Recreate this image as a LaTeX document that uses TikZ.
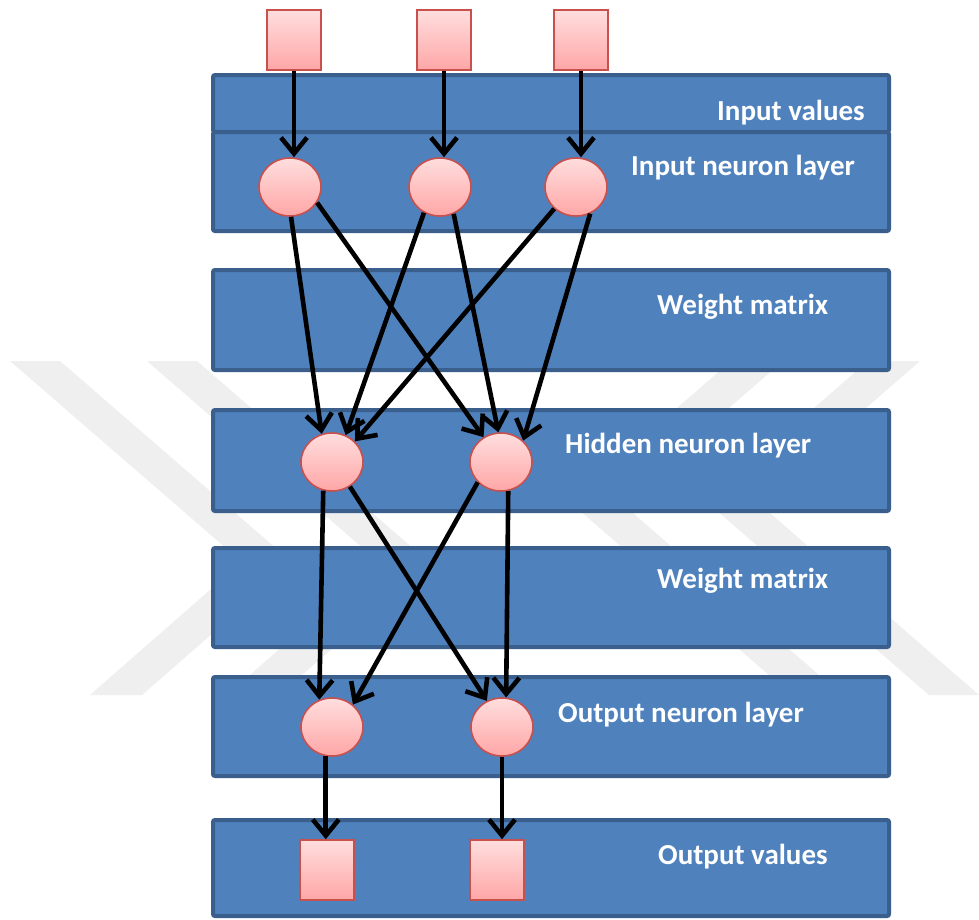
\documentclass[tikz,border=0pt]{standalone}
\usepackage{fontspec}
\setmainfont{Carlito}
\usetikzlibrary{shapes.geometric,arrows.meta}
\definecolor{bandfill}{HTML}{4F81BD}
\definecolor{banddraw}{HTML}{3A5F8C}
\definecolor{pinktop}{HTML}{FFDEDE}
\definecolor{pinkbot}{HTML}{FFA6A6}
\definecolor{pinkdraw}{HTML}{C8504D}
\definecolor{wmark}{HTML}{EFEFEF}
\tikzset{
 band/.style={fill=bandfill, draw=banddraw, line width=4pt, rounded corners=2pt},
 neuron/.style={ellipse, draw=pinkdraw, line width=1.6pt, top color=pinktop, bottom color=pinkbot, minimum width=62pt, minimum height=58pt, inner sep=0pt},
 valbox/.style={rectangle, draw=pinkdraw, line width=1.6pt, top color=pinktop, bottom color=pinkbot, minimum width=54pt, minimum height=60pt, inner sep=0pt},
 lbl/.style={anchor=base west, inner sep=0pt, text=white, font=\fontsize{29}{32}\selectfont\bfseries},
 arr/.style={line width=4.6pt, -{Straight Barb[length=16pt,width=26pt]}},
 wm/.style={fill=wmark, draw=none}
}
\begin{document}
\begin{tikzpicture}[x=1pt,y=-1pt]
\useasboundingbox (0,0) rectangle (979,919);
\fill[white] (0,0) rectangle (979,919);
% watermark
\fill[wm] (10,361) -- (60,361) -- (293,563) -- (142,695) -- (90,695) -- (242,562) -- cycle;
\fill[wm] (147,361) -- (197,361) -- (430,563) -- (279,695) -- (227,695) -- (379,562) -- cycle;
\fill[wm] (868,361) -- (920,361) -- (757.6,502.3) -- (979,695) -- (929,695) -- (706.4,501.6) -- cycle;
\fill[wm] (731,361) -- (783,361) -- (620.6,502.3) -- (842,695) -- (792,695) -- (569.4,501.6) -- cycle;
% bands
\draw[band] (213,75) rectangle (889,132);
\draw[band] (213,132) rectangle (889,231);
\draw[band] (213,270) rectangle (889,370);
\draw[band] (213,410) rectangle (889,511);
\draw[band] (213,548) rectangle (889,647);
\draw[band] (213,677) rectangle (889,776);
\draw[band] (213,820) rectangle (889,916);
% labels
\node[lbl] (t1) at (717,120) {Input values};
\node[lbl] (t2) at (631,175) {Input neuron layer};
\node[lbl] (t3) at (657,314) {Weight matrix};
\node[lbl] (t4) at (565,453) {Hidden neuron layer};
\node[lbl] (t5) at (657,588) {Weight matrix};
\node[lbl] (t6) at (558,722) {Output neuron layer};
\node[lbl] (t7) at (658,864) {Output values};
% value boxes
\node[valbox] (X1) at (294,40) {};
\node[valbox] (X2) at (444,40) {};
\node[valbox] (X3) at (581,40) {};
\node[valbox] (Y1) at (327,870) {};
\node[valbox] (Y2) at (497,870) {};
% neurons
\node[neuron] (I1) at (290,187) {};
\node[neuron] (I2) at (440,187) {};
\node[neuron] (I3) at (576,187) {};
\node[neuron] (H1) at (332,462) {};
\node[neuron] (H2) at (501,462) {};
\node[neuron] (O1) at (332,727) {};
\node[neuron] (O2) at (502,727) {};
% arrows
\draw[arr] (X1.south) -- (X1.south |- I1.north);
\draw[arr] (X2.south) -- (X2.south |- I2.north);
\draw[arr] (X3.south) -- (X3.south |- I3.north);
\draw[arr] (I1.-88) -- (H1.110);
\draw[arr] (I1.-30) -- (H2.125);
\draw[arr] (I2.-122) -- (H1.63);
\draw[arr] (I2.-63) -- (H2.95);
\draw[arr] (I3.-135) -- (H1.42);
\draw[arr] (I3.-62) -- (H2.44);
\draw[arr] (H1.-107) -- (O1.115);
\draw[arr] (H1.-54) -- (O2.120);
\draw[arr] (H2.-139) -- (O1.47);
\draw[arr] (H2.-76) -- (O2.82);
\draw[arr] (O1.-102) -- (O1.-102 |- Y1.north);
\draw[arr] (O2.south) -- (O2.south |- Y2.north);
\end{tikzpicture}
\end{document}
